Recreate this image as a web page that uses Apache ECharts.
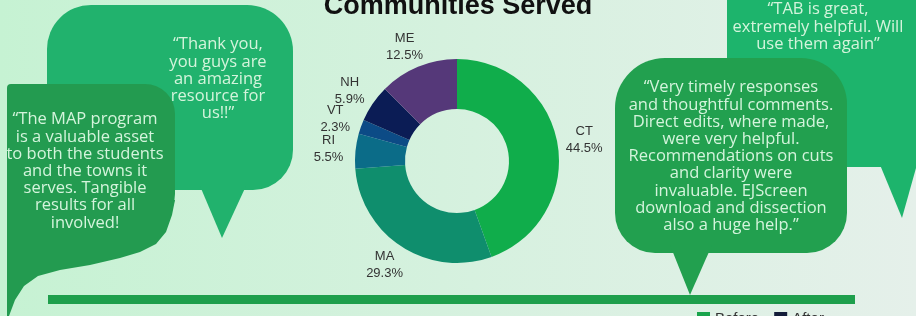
<!DOCTYPE html>
<html>
<head>
<meta charset="utf-8">
<script src="https://cdn.jsdelivr.net/npm/echarts@6/dist/echarts.min.js"></script>
<style>
html,body{margin:0;padding:0;}
#chart{width:916px;height:316px;}
</style>
</head>
<body>
<div id="chart"></div>
<script>
// ---- data ----
var states = ['CT', 'MA', 'RI', 'VT', 'NH', 'ME'];
var shares = [44.5, 29.3, 5.5, 2.3, 5.9, 12.5];
var stateColors = ['#10ad4b', '#0f8e6d', '#0b6c88', '#0c4b86', '#0b1c55', '#553879'];
var legendNames = ['Before', 'After'];
var legendColors = ['#19a44c', '#141d3a'];
var titleText = 'Communities Served';
var quoteThanks = ['\u201cThank you,', 'you guys are', 'an amazing', 'resource for', 'us!!\u201d'];
var quoteMap = ['\u201cThe MAP program', 'is a valuable asset', 'to both the students', 'and the towns it', 'serves. Tangible', 'results for all', 'involved!'];
var quoteTimely = ['\u201cVery timely responses', 'and thoughtful comments.', 'Direct edits, where made,', 'were very helpful.', 'Recommendations on cuts', 'and clarity were', 'invaluable. EJScreen', 'download and dissection', 'also a huge help.\u201d'];
var quoteTab = ['\u201cTAB is great,', 'extremely helpful. Will', 'use them again\u201d'];

var chart = echarts.init(document.getElementById('chart'), null, {renderer: 'canvas'});

var quoteFont = '16.5px "Open Sans", sans-serif';
var quoteColor = '#d4f4dc';
function quoteText(lines, x, y) {
  return {
    type: 'text', x: x, y: y, z: 5,
    style: {text: lines.join('\n'), font: quoteFont, fill: quoteColor, textAlign: 'center', textVerticalAlign: 'top', lineHeight: 17.2}
  };
}
function bubbleRect(x, y, w, h, r, fill, z) {
  return {type: 'rect', z: z, shape: {x: x, y: y, width: w, height: h, r: r}, style: {fill: fill}};
}
function bubbleTail(points, fill, z) {
  return {type: 'polygon', z: z, shape: {points: points}, style: {fill: fill}};
}

var pieData = states.map(function (s, i) {
  return {name: s, value: shares[i], itemStyle: {color: stateColors[i]}};
});

var c1 = '#21b26d', c2 = '#239b50', c3 = '#22a04f', c4 = '#1db46c';

var option = {
  backgroundColor: {
    type: 'linear', x: 0, y: 0, x2: 1, y2: 0,
    colorStops: [{offset: 0, color: '#c6f2d3'}, {offset: 1, color: '#e5f0ea'}]
  },
  title: {
    text: titleText, left: 'center', top: -12,
    textStyle: {fontFamily: '"Liberation Sans", Arial, sans-serif', fontSize: 27, fontWeight: 'bold', color: '#111111'}
  },
  legend: {
    data: legendNames, left: 697, top: 311, itemWidth: 13, itemHeight: 13, itemGap: 15, padding: 0,
    icon: 'rect',
    textStyle: {fontSize: 15, color: '#333', fontFamily: '"Liberation Sans", Arial, sans-serif'}
  },
  graphic: [
    // speech bubbles (decorative)
    bubbleRect(47, 5, 246, 185, [44, 46, 40, 40], c1, 1),
    bubbleTail([[200, 186], [222, 238], [246, 186]], c1, 1),
    bubbleRect(7, 84, 168, 150, [4, 30, 40, 0], c2, 2),
    bubbleTail([[7, 200], [175, 200], [172, 215], [166, 232], [156, 244], [140, 252], [120, 258], [90, 265], [60, 270], [38, 276], [24, 286], [15, 300], [9, 316], [7, 316]], c2, 2),
    bubbleRect(727, -40, 230, 207, [0, 0, 0, 42], c4, 1),
    bubbleTail([[878, 160], [902, 218], [916, 168], [916, 160]], c4, 1),
    bubbleRect(615, 58, 232, 195, [50, 46, 40, 40], c3, 2),
    bubbleTail([[670, 245], [690, 295], [712, 245]], c3, 2),
    quoteText(quoteThanks, 218, 36),
    quoteText(quoteMap, 85, 111),
    quoteText(quoteTimely, 731, 79),
    quoteText(quoteTab, 818, 1),
    // green divider
    {type: 'rect', z: 1, shape: {x: 48, y: 295, width: 807, height: 9}, style: {fill: '#1e9f4c'}}
  ],
  series: [
    {
      type: 'pie',
      center: [457, 161],
      radius: [52, 102],
      startAngle: 90,
      clockwise: true,
      avoidLabelOverlap: false,
      data: pieData,
      label: {
        show: true, position: 'outside',
        formatter: function (p) { return p.name + '\n' + p.value.toFixed(1) + '%'; },
        fontSize: 13, lineHeight: 17, color: '#333333',
        fontFamily: '"Liberation Sans", Arial, sans-serif'
      },
      labelLine: {show: false, length: 22, length2: 0},
      labelLayout: function () { return {align: 'center', verticalAlign: 'middle'}; },
      emphasis: {disabled: true}
    },
    {
      type: 'pie',
      center: [457, 161],
      radius: [0, 0],
      silent: true,
      label: {show: false},
      labelLine: {show: false},
      data: legendNames.map(function (n, i) { return {name: n, value: 0, itemStyle: {color: legendColors[i]}}; })
    }
  ]
};
chart.setOption(option);
</script>
</body>
</html>
